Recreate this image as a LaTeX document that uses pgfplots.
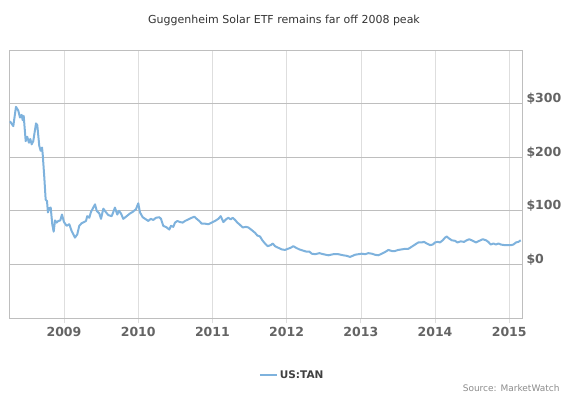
\documentclass[border=0pt]{standalone}
\usepackage{pgfplots}
\pgfplotsset{compat=1.18}
\usepackage{pgfplotstable}
\usepackage{fontspec}
\setmainfont{DejaVu Sans}
\definecolor{lineblue}{RGB}{126,178,221}
\definecolor{hgrid}{RGB}{190,190,190}
\definecolor{vgrid}{RGB}{222,222,222}
\definecolor{ticktext}{RGB}{100,100,100}
\pgfplotstableread{
year price
2008.272 267
2008.317 258
2008.353 294
2008.384 287
2008.407 274
2008.430 279
2008.443 269
2008.457 277
2008.484 230
2008.505 238
2008.528 227
2008.546 234
2008.565 224
2008.586 230
2008.623 263
2008.640 260
2008.667 221
2008.686 212
2008.704 218
2008.713 206
2008.735 162
2008.753 121
2008.771 118
2008.784 97
2008.802 105
2008.821 106
2008.842 75
2008.861 61
2008.879 82
2008.902 78
2008.923 81
2008.950 82
2008.973 93
2009.000 79
2009.036 72
2009.071 75
2009.104 62
2009.148 50
2009.179 56
2009.206 72
2009.239 77
2009.270 79
2009.296 81
2009.314 90
2009.341 87
2009.364 98
2009.395 106
2009.418 112
2009.441 100
2009.476 95
2009.499 85
2009.530 104
2009.562 98
2009.597 92
2009.643 90
2009.687 106
2009.718 93
2009.741 100
2009.768 95
2009.799 85
2009.845 90
2009.889 95
2009.926 98
2009.970 103
2010.001 114
2010.024 97
2010.061 88
2010.105 84
2010.136 81
2010.168 85
2010.204 83
2010.240 87
2010.284 88
2010.307 85
2010.338 72
2010.384 69
2010.419 65
2010.442 72
2010.473 70
2010.496 78
2010.527 81
2010.563 79
2010.600 78
2010.631 81
2010.675 84
2010.721 87
2010.756 89
2010.788 85
2010.823 81
2010.856 76
2010.900 76
2010.945 75
2010.991 78
2011.035 81
2011.080 85
2011.112 90
2011.147 79
2011.183 84
2011.214 87
2011.247 84
2011.274 87
2011.305 83
2011.336 78
2011.362 75
2011.408 69
2011.453 70
2011.484 69
2011.530 64
2011.574 59
2011.605 54
2011.642 52
2011.673 45
2011.709 39
2011.745 34
2011.786 36
2011.813 39
2011.844 34
2011.888 31
2011.934 28
2011.978 27
2012.015 29
2012.055 31
2012.090 34
2012.127 31
2012.171 28
2012.217 26
2012.261 24
2012.306 24
2012.338 20
2012.383 19
2012.441 21
2012.495 19
2012.562 17
2012.629 19
2012.697 19
2012.764 17
2012.810 16
2012.854 14
2012.891 16
2012.922 18
2012.966 19
2013.012 20
2013.057 19
2013.101 21
2013.147 20
2013.191 18
2013.236 17
2013.282 20
2013.326 23
2013.371 27
2013.416 25
2013.461 25
2013.505 27
2013.551 28
2013.596 29
2013.640 29
2013.686 33
2013.730 37
2013.775 41
2013.821 41
2013.852 42
2013.888 39
2013.933 36
2013.969 37
2014.000 41
2014.036 42
2014.067 41
2014.104 45
2014.135 50
2014.157 52
2014.193 48
2014.225 45
2014.270 44
2014.301 41
2014.346 43
2014.391 42
2014.427 45
2014.462 47
2014.508 44
2014.553 41
2014.597 44
2014.643 47
2014.687 45
2014.718 42
2014.751 37
2014.786 39
2014.822 37
2014.853 39
2014.889 37
2014.934 36
2014.980 36
2015.024 36
2015.055 37
2015.092 41
2015.123 42
2015.155 45
}\tan
\begin{document}
\begin{tikzpicture}
\path[use as bounding box] (-9bp,-80bp) rectangle (560bp,318bp);
\begin{axis}[
  scale only axis,
  width=513bp, height=268bp,
  xmin=2008.259, xmax=2015.172,
  ymin=-100, ymax=400,
  axis line style={draw=hgrid, line width=0.8bp},
  xtick={2009,2010,2011,2012,2013,2014,2015},
  xticklabels={2009,2010,2011,2012,2013,2014,2015},
  ytick={0,100,200,300},
  yticklabels={\$0,\$100,\$200,\$300},
  xmajorgrids, ymajorgrids,
  x grid style={draw=vgrid, line width=0.6bp},
  y grid style={draw=hgrid, line width=0.8bp},
  xtick align=outside,
  major tick length=5bp,
  xtick style={draw=vgrid, line width=0.8bp},
  ytick style={draw=none},
  xtick pos=bottom,
  yticklabel pos=right,
  tick label style={font=\fontsize{12.5bp}{14bp}\selectfont\bfseries, text=ticktext},
  xticklabel style={yshift=-1bp},
  yticklabel style={anchor=west, xshift=1bp, yshift=5bp},
  every axis title shift=0pt,
  title={Guggenheim Solar ETF remains far off 2008 peak},
  title style={at={(0.536,1.112)}, anchor=center, font=\fontsize{11bp}{13bp}\selectfont, text=black!80},
  legend style={at={(0.552,-0.213)}, anchor=center, draw=none, fill=none,
    font=\fontsize{10.5bp}{12bp}\selectfont\bfseries, text=black!75,
    /tikz/every even column/.append style={column sep=3bp}},
  legend cell align=left,
  clip=false,
]
\addplot[color=lineblue, line width=2bp, line join=round] table[x=year, y=price] {\tan};
\addlegendentry{US:TAN}
\node[anchor=east, font=\fontsize{9bp}{10bp}\selectfont, text=black!45] at (rel axis cs:1.08,-0.261) {Source: MarketWatch};
\end{axis}
\end{tikzpicture}
\end{document}
